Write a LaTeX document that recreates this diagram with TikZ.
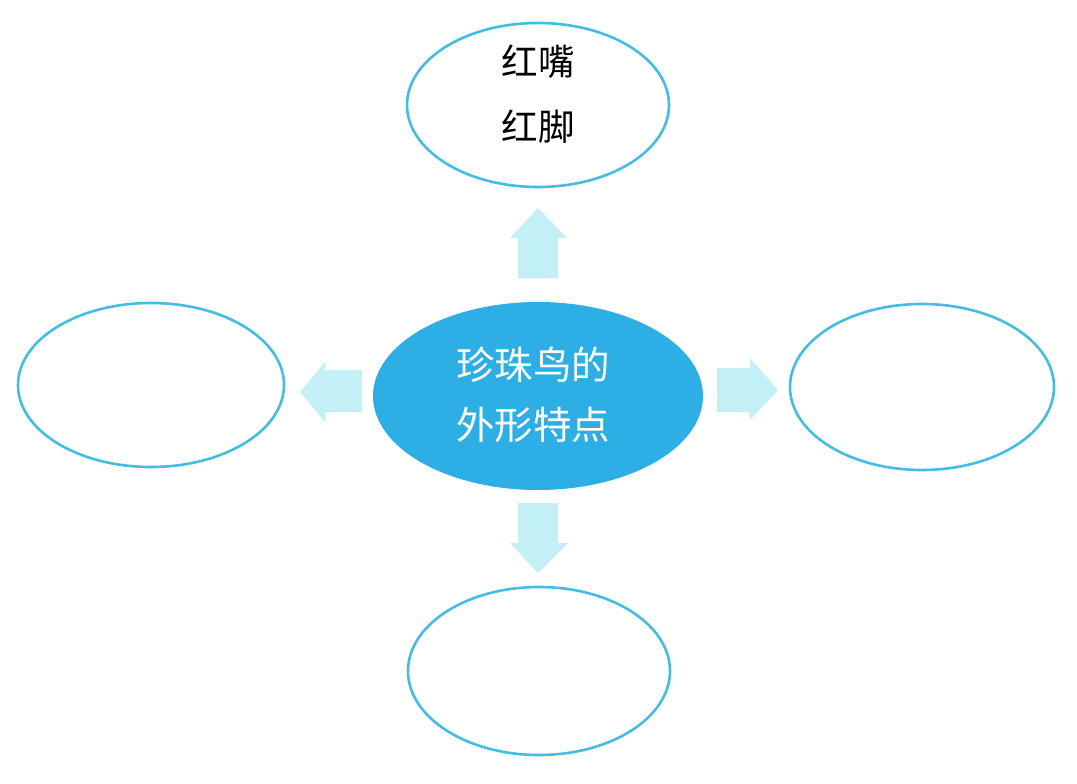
\documentclass[tikz,border=0pt]{standalone}
\usepackage{fontspec}
\newfontfamily\cjk{Noto Sans CJK SC}
\definecolor{ringblue}{HTML}{45BCE3}
\definecolor{coreblue}{HTML}{2DAFE6}
\definecolor{arrowcyan}{HTML}{C2F0F6}
\begin{document}
\begin{tikzpicture}[x=1pt,y=-1pt,
  ring/.style={draw=ringblue,line width=2.6pt,fill=white},
  core/.style={fill=coreblue},
  blockarrow/.style={fill=arrowcyan,draw=none},
  label/.style={align=center}]
\useasboundingbox (0,0) rectangle (1077,784);
\fill[white] (0,0) rectangle (1077,784);
% outer ellipses
\draw[ring] (538,105) ellipse [x radius=131,y radius=82];
\draw[ring] (151,385) ellipse [x radius=133,y radius=82];
\draw[ring] (922,387) ellipse [x radius=132,y radius=83];
\draw[ring] (539,671) ellipse [x radius=131,y radius=84];
% centre ellipse
\fill[core] (538,396) ellipse [x radius=165,y radius=94];
% block arrows
\fill[blockarrow] (518,278) -- (518,238) -- (510,238) -- (538,208) -- (567,238) -- (558,238) -- (558,278) -- cycle;
\fill[blockarrow] (362,370) -- (325,370) -- (325,362) -- (300,392) -- (325,422) -- (325,412) -- (362,412) -- cycle;
\fill[blockarrow] (717,368) -- (750,368) -- (750,358) -- (778,390) -- (750,420) -- (750,412) -- (717,412) -- cycle;
\fill[blockarrow] (518,503) -- (518,543) -- (510,543) -- (538,573) -- (568,543) -- (558,543) -- (558,503) -- cycle;
% texts
\node[label,text=black,font=\cjk\fontsize{36.5}{65}\selectfont] (top) at (538,94) {红嘴\\红脚};
\node[label,text=white,font=\cjk\fontsize{38.5}{60}\selectfont] (centre) at (533,395) {珍珠鸟的\\外形特点};
\end{tikzpicture}
\end{document}
